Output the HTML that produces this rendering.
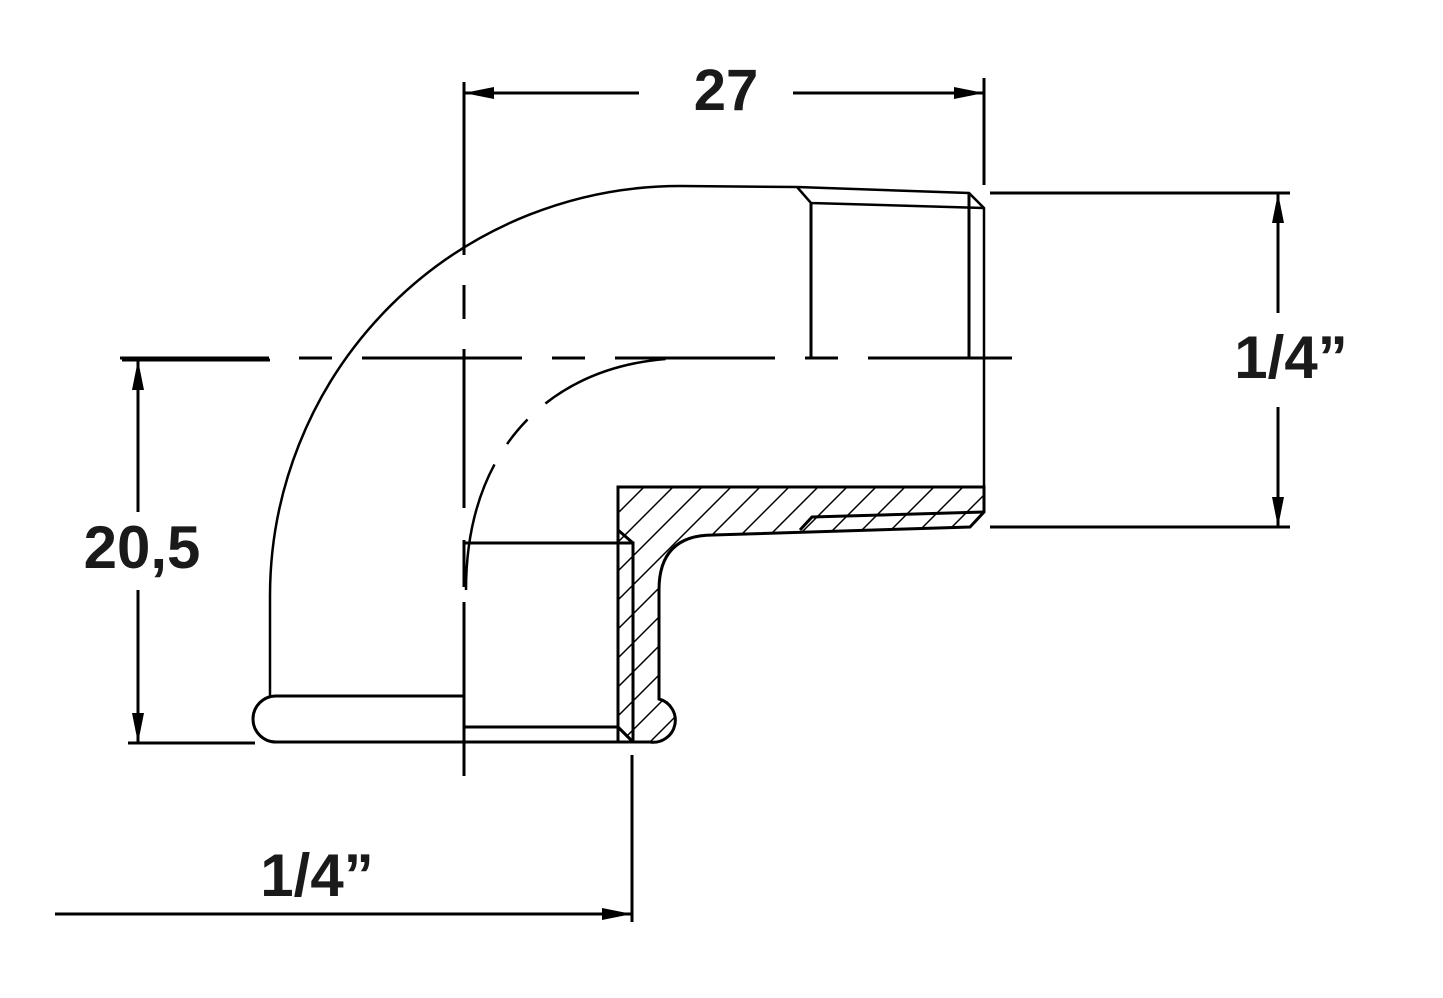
<!DOCTYPE html>
<html><head><meta charset="utf-8"><style>
html,body{margin:0;padding:0;background:#fff;}
svg{display:block;}
text{font-family:"Liberation Sans",sans-serif;font-weight:bold;fill:#1a1a1a;}
</style></head><body>
<svg width="1443" height="998" viewBox="0 0 1443 998" xmlns="http://www.w3.org/2000/svg">
<defs>
<pattern id="h" patternUnits="userSpaceOnUse" width="20.5" height="20" patternTransform="translate(643,487) rotate(45)">
<line x1="0" y1="0" x2="0" y2="20" stroke="#000" stroke-width="3"/>
</pattern>
<clipPath id="c"><path d="M618,487 L984,487 L984,512 L970,527 L713,535 Q659,535 659,590 L659,699 A22,22 0 0 1 650,742 L633,742 L618,727 Z"/></clipPath>
</defs>
<g stroke="#000" fill="none" stroke-width="3">
<!-- hatch -->
<rect x="600" y="480" width="400" height="270" fill="url(#h)" stroke="none" clip-path="url(#c)"/>
<!-- outer body -->
<path d="M270,696 L270,595 A410,410 0 0 1 680,186 L797,187" stroke-width="2.5"/>
<path d="M797,187 L969,193 L984,208 L984,512" stroke-width="2.5"/>
<path d="M797,187 L811,203 L984,208" stroke-width="2.5"/>
<line x1="811" y1="203" x2="811" y2="358"/>
<line x1="969" y1="193" x2="969" y2="358"/>
<!-- bead -->
<path d="M464,696 L276,696 A23,23 0 0 0 276,742 L650,742"/>
<!-- hatched section outline -->
<path d="M618,742 L618,487 L984,487 L984,512 L970,527 L713,535 Q659,535 659,590 L659,699 A22,22 0 0 1 650,742 L633,742 L618,727"/>
<path d="M984,512 L812,517 L800,530"/>
<!-- female thread -->
<path d="M464,543 L633,543 L633,742"/>
<path d="M618,530 L633,543"/>
<line x1="464" y1="727" x2="618" y2="727"/>
<line x1="618" y1="727" x2="633" y2="742"/>
<!-- inner dashed arc -->
<path d="M466,590 C466,440 560,358 690,358" stroke-width="2.5" stroke-dasharray="130 24 32 24"/>
<!-- centerlines -->
<line x1="120" y1="358" x2="1012" y2="358" stroke-dasharray="160 30 33 30" stroke-dashoffset="11"/>
<line x1="464" y1="82" x2="464" y2="255"/>
<line x1="464" y1="285" x2="464" y2="319"/>
<line x1="464" y1="349" x2="464" y2="508"/>
<line x1="464" y1="540" x2="464" y2="587"/>
<line x1="464" y1="602" x2="464" y2="776"/>
<!-- dims -->
<line x1="984" y1="78" x2="984" y2="185"/>
<line x1="464" y1="93" x2="639" y2="93"/>
<line x1="793" y1="93" x2="984" y2="93"/>
<line x1="990" y1="193" x2="1290" y2="193"/>
<line x1="990" y1="527" x2="1290" y2="527"/>
<line x1="1278" y1="193" x2="1278" y2="313"/>
<line x1="1278" y1="407" x2="1278" y2="527"/>
<line x1="122" y1="360" x2="270" y2="360"/>
<line x1="128" y1="743" x2="255" y2="743"/>
<line x1="138" y1="360" x2="138" y2="512"/>
<line x1="138" y1="590" x2="138" y2="743"/>
<line x1="632" y1="755" x2="632" y2="922"/>
<line x1="55" y1="914" x2="632" y2="914"/>
</g>
<g fill="#000">
<polygon points="464,93 494,87 494,99"/>
<polygon points="984,93 954,87 954,99"/>
<polygon points="1278,193 1272,223 1284,223"/>
<polygon points="1278,527 1272,497 1284,497"/>
<polygon points="138,360 132,390 144,390"/>
<polygon points="138,743 132,713 144,713"/>
<polygon points="632,914 602,908 602,920"/>
</g>
<text x="726" y="110" font-size="58" text-anchor="middle">27</text>
<text x="1291" y="378" font-size="60" text-anchor="middle">1/4”</text>
<text x="142" y="568" font-size="60" text-anchor="middle">20,5</text>
<text x="317" y="896" font-size="60" text-anchor="middle">1/4”</text>
</svg>
</body></html>
